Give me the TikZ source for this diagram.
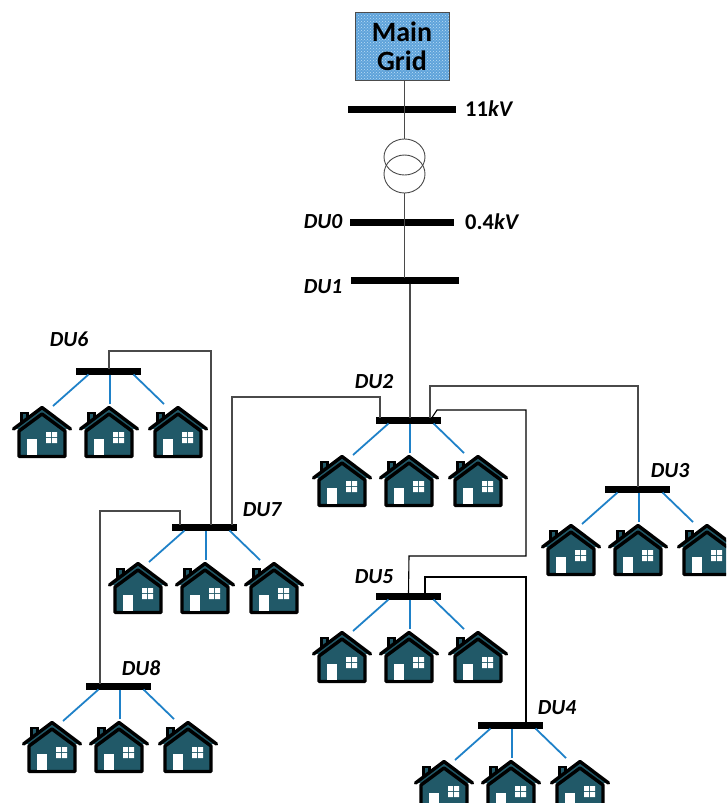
\documentclass[tikz,border=0pt]{standalone}
\usepackage{fontspec}
\setmainfont{Carlito}
\usetikzlibrary{patterns}
\definecolor{houseteal}{HTML}{215968}
\definecolor{feedblue}{HTML}{1F81C8}
\definecolor{wiregrey}{HTML}{4A4A4A}
\definecolor{gridblue}{HTML}{5FA3DA}
\definecolor{griddot}{HTML}{BBDDF5}
\tikzset{
  busbar/.style={fill=black,draw=none,rectangle,inner sep=0pt,minimum height=7pt,minimum width=#1},
  busbar/.default=65pt,
  wire/.style={draw=wiregrey,line width=1.1pt,line join=miter},
  feeder/.style={draw=feedblue,line width=1.8pt},
  dulabel/.style={font=\fontsize{21.5}{21.5}\selectfont\bfseries\itshape,inner sep=0pt},
  kvlabel/.style={font=\fontsize{22.5}{22.5}\selectfont\bfseries,inner sep=0pt},
  gridbox/.style={draw=black!70,line width=0.8pt,rectangle,inner sep=0pt,minimum width=94pt,minimum height=68pt,
    align=center,font=\fontsize{28}{29}\selectfont\bfseries,
    preaction={fill=gridblue},pattern=crosshatch dots,pattern color=griddot},
  transformer/.style={draw=wiregrey,line width=0.9pt},
  houseline/.style={draw=black,line width=3.4pt,line join=round,line cap=round},
}
\newcommand{\onehouse}[2]{% name, position of apex
  \coordinate (#1) at (#2);
  \begin{scope}[shift={(#1)}]
    \draw[black,line width=2.2pt,fill=houseteal] (-20.5,20) rectangle (-14.5,7);
    \fill[houseteal] (-28,23) -- (0,2) -- (28,23) -- cycle;
    \draw[houseline,fill=houseteal] (-23,25) -- (0,8) -- (23,25) -- (23,50.5) -- (-23,50.5) -- cycle;
    \draw[houseline] (-28.5,23) -- (0,1.5) -- (28.5,23);
    \fill[white] (-15,33) rectangle (-5.5,49);
    \fill[white] (4,26) rectangle (9,31) (10,26) rectangle (15,31) (4,32) rectangle (9,37) (10,32) rectangle (15,37);
  \end{scope}
}
\newcommand{\dugroup}[3]{% name, bus x, bus y
  \node[busbar] (#1) at (#2+0.5,#3+0.5) {};
  \onehouse{#1a}{#2-66,#3+35}
  \onehouse{#1b}{#2+1,#3+35}
  \onehouse{#1c}{#2+70,#3+35}
  \draw[feeder] ([xshift=-20pt,yshift=-3pt]#1.center) -- ([xshift=11pt,yshift=0pt]#1a);
  \draw[feeder] ([xshift=1.5pt,yshift=-3pt]#1.center) -- ([xshift=1pt,yshift=2pt]#1b);
  \draw[feeder] ([xshift=25pt,yshift=-3pt]#1.center) -- ([xshift=-14pt,yshift=2pt]#1c);
}
\begin{document}
\begin{tikzpicture}[x=1pt,y=-1pt]
\useasboundingbox (0,0) rectangle (726,803);
\clip (0,0) rectangle (726,803);
% upper part
\coordinate (tupper) at (404.5,157);
\coordinate (tlower) at (404.5,174);
\coordinate (ttop) at (404.5,139);
\coordinate (tbot) at (404.5,193);
\node[busbar=108pt] (bus11) at (402,109.5) {};
\node[busbar=104pt] (du0) at (402,222) {};
\node[busbar=108pt] (du1) at (405,280.5) {};
\node[gridbox] (grid) at (402,46) {Main\\Grid};
\draw[wire] ([xshift=2.5pt]grid.south) -- (ttop);
\draw[transformer] (tupper) ellipse (20.5 and 18);
\draw[transformer] (tlower) ellipse (20.5 and 19);
\draw[wire] (tbot) -- ([xshift=-0.5pt,yshift=3pt]du1.center);
\node[kvlabel,anchor=west] (l11) at (465,109) {11\textit{kV}};
\node[kvlabel,anchor=west] (l04) at (465,222) {0.4\textit{kV}};
\node[dulabel] (l0) at (323,222) {DU0};
\node[dulabel] (l1) at (323,287) {DU1};
% feeder groups
\dugroup{du2}{408}{420}
\dugroup{du3}{637}{489}
\dugroup{du4}{510}{725}
\dugroup{du5}{408}{596}
\dugroup{du6}{108}{371}
\dugroup{du7}{204}{527}
\dugroup{du8}{118}{686}
% connectors
\draw[wire] ([xshift=5pt,yshift=-3pt]du1.center) -- ([xshift=1.5pt,yshift=3pt]du2.center);
\draw[wire] ([xshift=-28.5pt,yshift=3pt]du2.center) |- (232,397) -- ([xshift=27.5pt,yshift=3pt]du7.center);
\draw[wire] ([xshift=21.5pt,yshift=3pt]du2.center) |- (638,386) -- ([xshift=0.5pt,yshift=3pt]du3.center);
\draw[wire,black] ([xshift=23.5pt,yshift=3pt]du2.center) -- (437,410) -- (526,410) -- (526,556) -- (409,556) -- ([yshift=3pt]du5.center);
\draw[wire,black] ([xshift=16.5pt,yshift=3pt]du5.center) |- (526,577) -- ([xshift=15.5pt,yshift=3pt]du4.center);
\draw[wire] ([xshift=0.5pt,yshift=3pt]du6.center) |- (211,351) -- ([xshift=6.5pt,yshift=3pt]du7.center);
\draw[wire] ([xshift=-24.5pt,yshift=3pt]du7.center) |- (100,511) -- ([xshift=-18.5pt,yshift=3pt]du8.center);
% labels
\node[dulabel] (l2) at (374,382) {DU2};
\node[dulabel] (l3) at (670,471) {DU3};
\node[dulabel] (l4) at (557,708) {DU4};
\node[dulabel] (l5) at (374,577) {DU5};
\node[dulabel] (l6) at (69,339) {DU6};
\node[dulabel] (l7) at (262,510) {DU7};
\node[dulabel] (l8) at (141,668) {DU8};
\end{tikzpicture}
\end{document}
